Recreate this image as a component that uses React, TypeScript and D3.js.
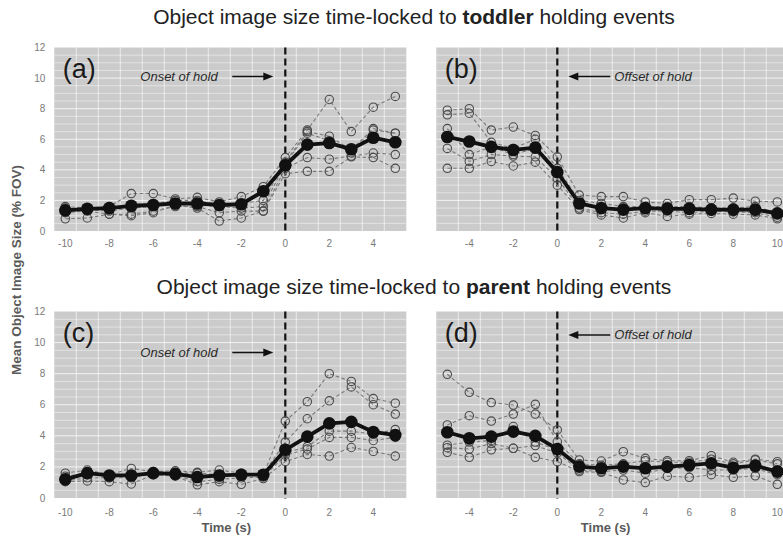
import React from "react";
import * as d3 from "d3";

// ---------- DATA ----------
const tLeft = [-10, -9, -8, -7, -6, -5, -4, -3, -2, -1, 0, 1, 2, 3, 4, 5];
const tRight = [-5, -4, -3, -2, -1, 0, 1, 2, 3, 4, 5, 6, 7, 8, 9, 10];

// (a) toddler, onset
const aSubjects = [
  [1.6, 1.5, 1.6, 2.45, 2.45, 2.1, 2.2, 1.9, 2.25, 2.9, 4.8, 6.6, 8.6, 6.5, 8.1, 8.8],
  [1.5, 1.4, 1.5, 1.7, 1.8, 2.0, 2.0, 1.7, 1.8, 2.0, 4.5, 6.5, 6.2, 5.3, 6.7, 6.4],
  [1.3, 1.4, 1.3, 1.5, 1.6, 1.8, 1.7, 1.6, 1.5, 1.6, 4.4, 6.4, 5.9, 5.1, 6.6, 6.4],
  [1.2, 1.3, 1.1, 1.1, 1.3, 1.6, 1.6, 1.2, 1.3, 1.3, 4.1, 4.8, 4.7, 4.9, 5.1, 5.0],
  [0.8, 0.85, 1.1, 1.0, 1.2, 1.7, 1.5, 0.65, 0.85, 1.3, 3.75, 3.9, 3.9, 4.85, 4.8, 4.1],
];
const aMean = [1.35, 1.45, 1.5, 1.65, 1.7, 1.8, 1.8, 1.7, 1.75, 2.6, 4.3, 5.65, 5.75, 5.35, 6.1, 5.8];

// (b) toddler, offset
const bSubjects = [
  [7.9, 8.0, 6.6, 6.8, 6.25, 4.85, 2.35, 2.25, 2.25, 1.9, 1.8, 2.05, 2.05, 2.15, 1.95, 1.9],
  [7.6, 7.7, 5.8, 5.4, 6.0, 4.1, 2.0, 1.8, 1.6, 1.6, 1.6, 1.6, 1.5, 1.5, 1.6, 1.2],
  [6.7, 5.0, 5.5, 5.0, 5.4, 3.9, 1.8, 1.5, 1.4, 1.5, 1.45, 1.4, 1.4, 1.3, 1.3, 1.1],
  [5.4, 4.55, 5.0, 4.9, 4.85, 3.45, 1.5, 1.2, 1.1, 1.3, 1.3, 1.2, 1.3, 1.25, 1.2, 0.9],
  [4.1, 4.1, 4.55, 4.25, 4.5, 3.0, 1.4, 1.05, 0.85, 1.2, 0.95, 1.1, 1.15, 1.1, 1.05, 0.8],
];
const bMean = [6.15, 5.85, 5.5, 5.3, 5.45, 3.85, 1.8, 1.5, 1.4, 1.5, 1.45, 1.45, 1.4, 1.4, 1.4, 1.15];

// (c) parent, onset
const cSubjects = [
  [1.6, 1.8, 1.5, 1.9, 1.7, 1.75, 1.65, 1.8, 1.6, 1.5, 4.95, 6.2, 8.0, 7.5, 6.4, 6.1],
  [1.4, 1.6, 1.45, 1.5, 1.6, 1.6, 1.6, 1.5, 1.55, 1.55, 3.6, 5.1, 6.25, 7.15, 6.0, 5.4],
  [1.2, 1.5, 1.4, 1.4, 1.6, 1.5, 1.4, 1.4, 1.5, 1.45, 2.9, 3.3, 4.3, 4.3, 4.1, 4.4],
  [1.1, 1.3, 1.3, 1.3, 1.55, 1.45, 1.05, 1.2, 1.3, 1.35, 2.75, 3.15, 3.9, 3.9, 3.7, 3.9],
  [1.05, 1.1, 1.05, 0.9, 1.5, 1.4, 0.85, 1.05, 0.88, 1.25, 2.35, 2.8, 2.7, 3.25, 3.0, 2.7],
];
const cMean = [1.2, 1.6, 1.45, 1.45, 1.6, 1.55, 1.35, 1.45, 1.5, 1.5, 3.1, 3.95, 4.8, 4.9, 4.25, 4.05];

// (d) parent, offset
const dSubjects = [
  [7.96, 6.8, 6.14, 5.98, 5.4, 4.38, 2.45, 2.38, 2.98, 2.55, 2.4, 2.4, 2.72, 2.3, 2.5, 2.34],
  [4.7, 5.3, 4.95, 5.4, 6.03, 3.62, 2.2, 2.1, 2.2, 2.4, 2.3, 2.3, 2.5, 2.2, 2.45, 2.2],
  [3.4, 3.6, 3.7, 4.6, 3.6, 3.1, 2.0, 1.9, 2.0, 2.0, 2.1, 2.1, 2.2, 2.0, 2.1, 1.7],
  [3.24, 3.15, 3.5, 3.2, 3.37, 2.9, 1.8, 1.7, 1.8, 1.6, 1.9, 1.95, 1.8, 1.8, 1.9, 1.5],
  [2.94, 2.62, 3.1, 3.2, 2.62, 2.34, 1.7, 1.65, 1.16, 0.99, 1.4, 1.33, 1.5, 1.33, 1.43, 0.88],
];
const dMean = [4.23, 3.84, 3.95, 4.27, 4.0, 3.15, 2.02, 1.91, 2.02, 1.91, 2.02, 2.12, 2.23, 1.95, 2.08, 1.7];

const yTicks = [0, 2, 4, 6, 8, 10, 12];
const xTicksLeft = [-10, -8, -6, -4, -2, 0, 2, 4];
const xTicksRight = [-4, -2, 0, 2, 4, 6, 8, 10];

const titleTop = ["Object image size time-locked to ", "toddler", " holding events"];
const titleBottom = ["Object image size time-locked to ", "parent", " holding events"];
const yAxisTitle = "Mean Object Image Size (% FOV)";
const xAxisTitle = "Time (s)";

// ---------- LAYOUT ----------
const W = 783;
const H = 540;
const FONT = "Liberation Sans, Arial, Helvetica, sans-serif";

type PanelSpec = {
  label: string;
  t: number[];
  subjects: number[][];
  mean: number[];
  xDomain: [number, number];
  xRange: [number, number];
  yRange: [number, number];
  xTicks: number[];
  showY: boolean;
  onset: boolean;
  showXTitle: boolean;
  top: boolean;
};

const rowTop: [number, number] = [231, 47.5];
const rowBottom: [number, number] = [498, 311.5];
const leftX: [number, number] = [54.3, 406.3];
const rightX: [number, number] = [436.3, 788.3];

const panels: PanelSpec[] = [
  { label: "(a)", t: tLeft, subjects: aSubjects, mean: aMean, xDomain: [-10.5, 5.5], xRange: leftX, yRange: rowTop, xTicks: xTicksLeft, showY: true, onset: true, showXTitle: false, top: true },
  { label: "(b)", t: tRight, subjects: bSubjects, mean: bMean, xDomain: [-5.5, 10.5], xRange: rightX, yRange: rowTop, xTicks: xTicksRight, showY: false, onset: false, showXTitle: false, top: true },
  { label: "(c)", t: tLeft, subjects: cSubjects, mean: cMean, xDomain: [-10.5, 5.5], xRange: leftX, yRange: rowBottom, xTicks: xTicksLeft, showY: true, onset: true, showXTitle: true, top: false },
  { label: "(d)", t: tRight, subjects: dSubjects, mean: dMean, xDomain: [-5.5, 10.5], xRange: rightX, yRange: rowBottom, xTicks: xTicksRight, showY: false, onset: false, showXTitle: true, top: false },
];

function Panel({ p }: { p: PanelSpec }) {
  const x = d3.scaleLinear().domain(p.xDomain).range(p.xRange);
  const y = d3.scaleLinear().domain([0, 12]).range(p.yRange);
  const [x0, x1] = p.xRange;
  const [yb, yt] = p.yRange;
  const hGrid = d3.range(0.5, 12, 0.5);
  const vGrid = d3.range(p.xDomain[0] + 1, p.xDomain[1], 1);
  const line = d3
    .line<[number, number]>()
    .x((d) => x(d[0]))
    .y((d) => y(d[1]));
  const arrowY = p.top ? 76.5 : p.onset ? 352.5 : 335;
  const zeroX = x(0);
  return (
    <g>
      <rect x={x0} y={yt} width={x1 - x0} height={yb - yt} fill="#cbcbcb" />
      {hGrid.map((v) => (
        <line key={"h" + v} x1={x0} x2={x1} y1={y(v)} y2={y(v)} stroke="#ffffff" strokeOpacity={v % 2 === 0 ? 0.75 : 0.45} strokeWidth={1} />
      ))}
      {vGrid.map((v) => (
        <line key={"v" + v} x1={x(v)} x2={x(v)} y1={yt} y2={yb} stroke="#ffffff" strokeOpacity={0.6} strokeWidth={1} />
      ))}
      {/* zero line */}
      <line x1={zeroX} x2={zeroX} y1={yt} y2={yb + 1} stroke="#111" strokeWidth={2.2} strokeDasharray="7,4" />
      {/* subject dashed lines */}
      {p.subjects.map((s, i) => (
        <path key={"s" + i} d={line(p.t.map((tt, j) => [tt, s[j]] as [number, number])) || ""} fill="none" stroke="#7a7a7a" strokeWidth={1.1} strokeDasharray="3.5,2.5" />
      ))}
      {p.subjects.map((s, i) =>
        s.map((v, j) => (
          <circle key={"c" + i + "-" + j} cx={x(p.t[j])} cy={y(v)} r={4.2} fill="none" stroke="#4a4a4a" strokeWidth={1.1} />
        ))
      )}
      {/* mean line */}
      <path d={line(p.t.map((tt, j) => [tt, p.mean[j]] as [number, number])) || ""} fill="none" stroke="#111" strokeWidth={3.8} strokeLinejoin="round" />
      {p.mean.map((v, j) => (
        <circle key={"m" + j} cx={x(p.t[j])} cy={y(v)} r={6.3} fill="#111" />
      ))}
      {/* panel label */}
      <text x={x0 + 8.5} y={yt + 30} fontFamily={FONT} fontSize={27} fill="#1a1a1a">
        {p.label}
      </text>
      {/* annotation */}
      {p.onset ? (
        <g>
          <text x={zeroX - 145} y={arrowY + 4.3} fontFamily={FONT} fontSize={13} fontStyle="italic" fill="#2a2a2a">
            Onset of hold
          </text>
          <line x1={zeroX - 53} x2={zeroX - 20} y1={arrowY} y2={arrowY} stroke="#111" strokeWidth={1.6} />
          <path d={`M${zeroX - 12},${arrowY} L${zeroX - 22},${arrowY - 4} L${zeroX - 22},${arrowY + 4} Z`} fill="#111" />
        </g>
      ) : (
        <g>
          <line x1={zeroX + 20} x2={zeroX + 53} y1={arrowY} y2={arrowY} stroke="#111" strokeWidth={1.6} />
          <path d={`M${zeroX + 11},${arrowY} L${zeroX + 21},${arrowY - 4} L${zeroX + 21},${arrowY + 4} Z`} fill="#111" />
          <text x={zeroX + 57} y={arrowY + 4.3} fontFamily={FONT} fontSize={13} fontStyle="italic" fill="#2a2a2a">
            Offset of hold
          </text>
        </g>
      )}
      {/* axes tick labels */}
      {p.showY &&
        yTicks.map((v) => (
          <text key={"yt" + v} x={x0 - 9} y={y(v) + 3.5} textAnchor="end" fontFamily={FONT} fontSize={10} fill="#7a7a7a">
            {v}
          </text>
        ))}
      {p.xTicks.map((v) => (
        <text key={"xt" + v} x={x(v)} y={yb + (p.top ? 16 : 17.5)} textAnchor="middle" fontFamily={FONT} fontSize={10} fill="#7a7a7a">
          {v}
        </text>
      ))}
      {p.showXTitle && (
        <text x={(x0 + Math.min(x1, 783)) / 2 - 4} y={532} textAnchor="middle" fontFamily={FONT} fontSize={13} fontWeight="bold" fill="#5a5a5a">
          {xAxisTitle}
        </text>
      )}
    </g>
  );
}

export default function App() {
  return (
    <div style={{ position: "fixed", left: 0, top: 0, width: W, height: H, overflow: "hidden", background: "#fff" }}>
      <svg width={W} height={H} viewBox={`0 0 ${W} ${H}`} style={{ display: "block" }}>
        <rect x={0} y={0} width={W} height={H} fill="#fff" />
        <text x={414} y={23.5} textAnchor="middle" fontFamily={FONT} fontSize={21} fill="#222">
          <tspan>{titleTop[0]}</tspan>
          <tspan fontWeight="bold">{titleTop[1]}</tspan>
          <tspan>{titleTop[2]}</tspan>
        </text>
        <text x={414} y={293.5} textAnchor="middle" fontFamily={FONT} fontSize={21} fill="#222">
          <tspan>{titleBottom[0]}</tspan>
          <tspan fontWeight="bold">{titleBottom[1]}</tspan>
          <tspan>{titleBottom[2]}</tspan>
        </text>
        <text transform="translate(21,270) rotate(-90)" textAnchor="middle" fontFamily={FONT} fontSize={13.5} fontWeight="bold" fill="#5a5a5a">
          {yAxisTitle}
        </text>
        {panels.map((p) => (
          <Panel key={p.label} p={p} />
        ))}
      </svg>
    </div>
  );
}
